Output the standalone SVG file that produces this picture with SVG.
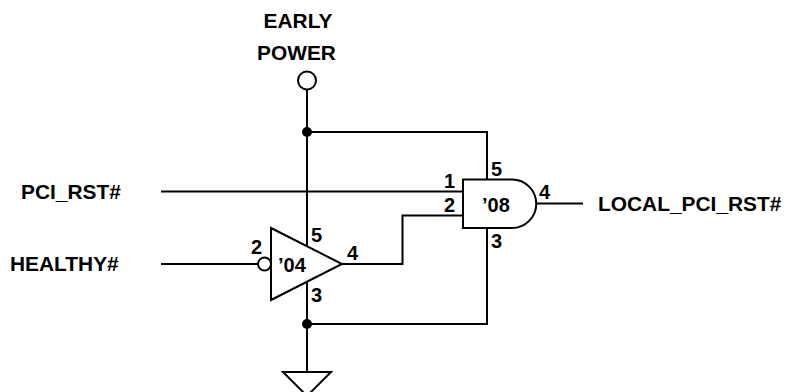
<svg xmlns="http://www.w3.org/2000/svg" width="788" height="392" viewBox="0 0 788 392">
<style>
.w{fill:none;stroke:#000;stroke-width:2;stroke-linejoin:miter}
.s{fill:#fff;stroke:#000;stroke-width:2;stroke-linejoin:miter}
.d{fill:#000}
text{font-family:"Liberation Sans",Arial,sans-serif;font-weight:bold;font-size:20px;fill:#000}
.l{font-size:20.900px}
.m{text-anchor:middle}
</style>
<rect width="788" height="392" fill="#fff"/>
<g id="connectors">
<path class="w" d="M307 89V246"/>
<path class="w" d="M307 132H487V179"/>
<path class="w" d="M161 191.500H463"/>
<path class="w" d="M161 264H258"/>
<path class="w" d="M342 264H402.500V215.500H463"/>
<path class="w" d="M536 203.500H583"/>
<path class="w" d="M307 282V372"/>
<path class="w" d="M307 324H487V228"/>
<circle class="d" cx="307" cy="132" r="5"/>
<circle class="d" cx="307" cy="324" r="5"/>
</g>
<g id="early-power">
<text class="l m" x="298" y="28">EARLY</text>
<text class="l m" x="296.500" y="60">POWER</text>
<circle class="s" cx="307" cy="80.500" r="9"/>
</g>
<g id="pci-rst"><text class="l" x="21" y="199">PCI_RST#</text></g>
<g id="healthy"><text class="l" x="10" y="271">HEALTHY#</text></g>
<g id="local-pci-rst"><text class="l" x="598" y="211">LOCAL_PCI_RST#</text></g>
<g id="inverter">
<path class="s" d="M271 228V300L342 264Z"/>
<circle class="s" cx="264.500" cy="264" r="6.500"/>
<text x="278" y="272">’04</text>
<text x="251" y="254">2</text>
<text x="311" y="242">5</text>
<text x="347" y="260">4</text>
<text x="311" y="302">3</text>
</g>
<g id="and-gate">
<path class="s" d="M463 179.500H512A24 24 0 0 1 512 228H463Z"/>
<text x="482" y="212">’08</text>
<text x="444" y="188">1</text>
<text x="444" y="212">2</text>
<text x="491" y="176">5</text>
<text x="539" y="199">4</text>
<text x="491" y="248">3</text>
</g>
<g id="ground"><path class="s" d="M283 372H331L307 396Z"/></g>
</svg>
